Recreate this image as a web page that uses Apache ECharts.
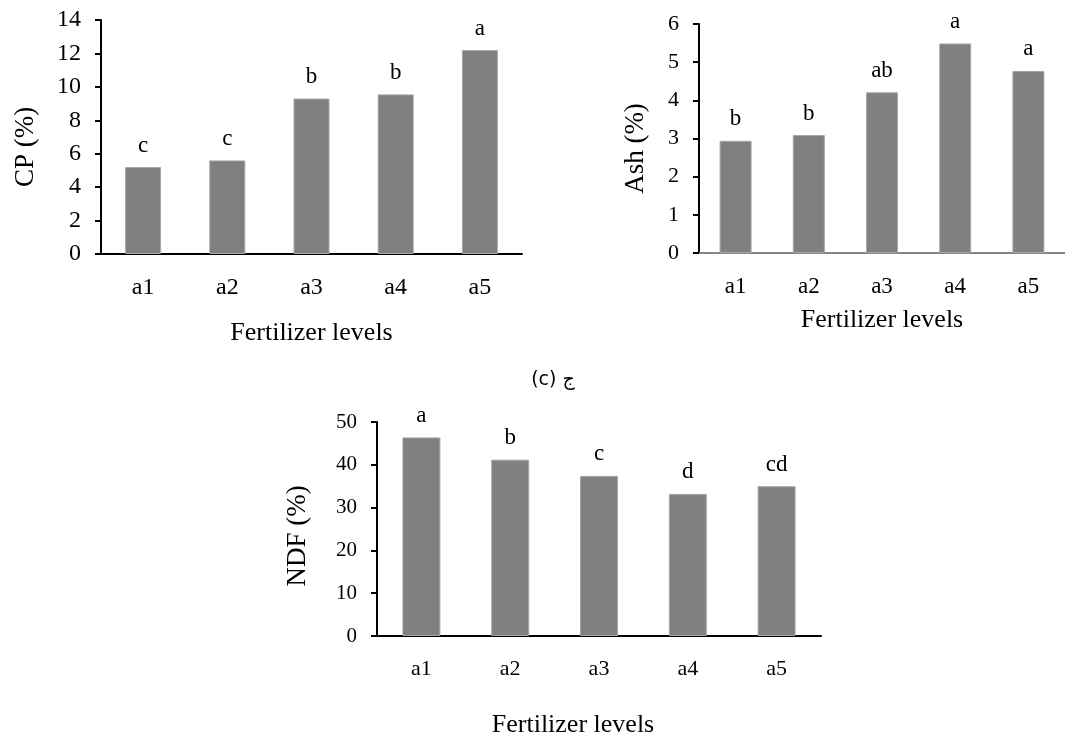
<!DOCTYPE html>
<html>
<head>
<meta charset="utf-8">
<script src="https://cdn.jsdelivr.net/npm/echarts@6/dist/echarts.min.js"></script>
<style>
  html, body { margin: 0; padding: 0; background: #fff; }
  #chart { width: 1065px; height: 739px; }
</style>
</head>
<body>
<div id="chart"></div>
<script>
const levels = ['a1', 'a2', 'a3', 'a4', 'a5'];

const cpValues = [5.2, 5.6, 9.3, 9.55, 12.2];
const cpLetters = ['c', 'c', 'b', 'b', 'a'];

const ashValues = [2.94, 3.09, 4.21, 5.49, 4.77];
const ashLetters = ['b', 'b', 'ab', 'a', 'a'];

const ndfValues = [46.4, 41.2, 37.4, 33.2, 35.0];
const ndfLetters = ['a', 'b', 'c', 'd', 'cd'];

const serif = 'Liberation Serif';
const barColor = '#808080';

function xAxisFor(gridIndex, lineColor, labelSize, nameGap, namePadding) {
  return {
    type: 'category',
    gridIndex: gridIndex,
    data: levels,
    name: 'Fertilizer levels',
    nameLocation: 'middle',
    nameGap: nameGap,
    nameTextStyle: { fontFamily: serif, fontSize: 26, color: '#000', padding: namePadding || 0 },
    axisLine: { lineStyle: { color: lineColor, width: 2 } },
    axisTick: { show: false },
    axisLabel: { fontFamily: serif, fontSize: labelSize, color: '#000', margin: 22 }
  };
}

// padding on the right of the rotated name pushes it down on screen
function yAxisFor(gridIndex, name, max, interval, labelSize, nameGap, nameShift) {
  return {
    type: 'value',
    gridIndex: gridIndex,
    min: 0,
    max: max,
    interval: interval,
    name: name,
    nameLocation: 'middle',
    nameGap: nameGap,
    nameRotate: 90,
    nameTextStyle: { fontFamily: serif, fontSize: 27, color: '#000', padding: [0, nameShift * 2, 0, 0] },
    splitLine: { show: false },
    axisLine: { show: true, lineStyle: { color: '#000', width: 2 } },
    axisTick: { show: true, length: 6, lineStyle: { color: '#000', width: 2 } },
    axisLabel: { fontFamily: serif, fontSize: labelSize, color: '#000', margin: 20 }
  };
}

function barSeries(index, values, letters, width) {
  return {
    type: 'bar',
    xAxisIndex: index,
    yAxisIndex: index,
    data: values,
    barWidth: width,
    itemStyle: { color: barColor, borderColor: '#a6a6a6', borderWidth: 1 },
    label: {
      show: true,
      position: 'top',
      distance: 10,
      fontFamily: serif,
      fontSize: 23,
      color: '#000',
      formatter: p => letters[p.dataIndex]
    }
  };
}

const chart = echarts.init(document.getElementById('chart'), null, { renderer: 'canvas' });

chart.setOption({
  backgroundColor: '#fff',
  animation: false,
  title: {
    text: '(c) ج',
    left: 548,
    top: 366,
    textAlign: 'center',
    textStyle: { fontFamily: 'DejaVu Sans', fontSize: 19, fontWeight: 'normal', color: '#000' }
  },
  grid: [
    { left: 101, top: 20, width: 421, height: 234 },
    { left: 699, top: 24, width: 375, height: 229 },
    { left: 377, top: 422, width: 444, height: 218 }
  ],
  xAxis: [
    xAxisFor(0, '#000', 24, 66),
    xAxisFor(1, '#858585', 23, 54),
    xAxisFor(2, '#000', 22, 76, [0, 52, 0, 0])
  ],
  yAxis: [
    yAxisFor(0, 'CP (%)', 14, 2, 24, 62, 10),
    yAxisFor(1, 'Ash (%)', 6, 1, 22, 50, 10),
    yAxisFor(2, 'NDF (%)', 50, 10, 21, 66, 7)
  ],
  series: [
    barSeries(0, cpValues, cpLetters, 36),
    barSeries(1, ashValues, ashLetters, 32),
    barSeries(2, ndfValues, ndfLetters, 38)
  ]
});

window.addEventListener('resize', () => chart.resize());
</script>
</body>
</html>
